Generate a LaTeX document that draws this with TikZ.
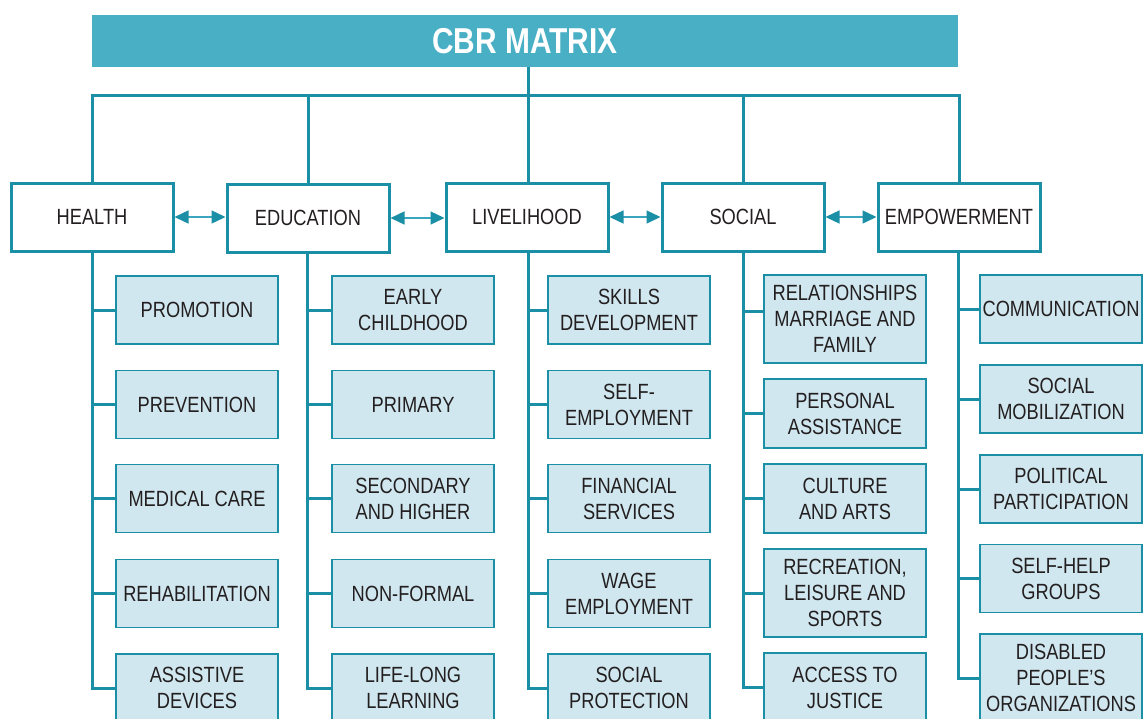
\documentclass[tikz,border=0pt]{standalone}
\usepackage{fontspec}
\setmainfont{Liberation Sans}[FakeStretch=0.83]
\usetikzlibrary{arrows.meta}
\definecolor{teal1}{HTML}{1A8FA6}
\definecolor{shaft}{HTML}{3AA6BE}
\definecolor{titlebg}{HTML}{49AFC5}
\definecolor{subbg}{HTML}{D0E7EF}
\definecolor{txt}{HTML}{231F20}
\begin{document}
\begin{tikzpicture}[x=1pt,y=-1pt,
  bodyfont/.style={font=\fontsize{22}{26}\selectfont},
  titlebox/.style={fill=titlebg, minimum width=866pt, minimum height=52pt, inner sep=0pt, text=white, font=\fontsize{36}{40}\selectfont\bfseries},
  head/.style={draw=teal1, line width=3pt, fill=white, minimum width=162pt, minimum height=68pt, inner sep=0pt, bodyfont, text=txt, align=center},
  sub/.style={draw=teal1, line width=1.8pt, fill=subbg, minimum width=162pt, minimum height=68pt, inner sep=0pt, bodyfont, text=txt, align=center},
  link/.style={draw=teal1, line width=3pt},
  biarrow/.style={draw=shaft, line width=1.4pt, {Triangle[length=14pt,width=13pt,color=teal1]}-{Triangle[length=14pt,width=13pt,color=teal1]}}
]
\useasboundingbox (0,0) rectangle (1145,718);
\clip (0,0) rectangle (1145,718);

% title
\node[titlebox] (title) at (525,41) {CBR MATRIX};

% headers
\node[head] (health) at (92,217) {HEALTH};
\node[head] (edu) at (308,218) {EDUCATION};
\node[head] (live) at (527,217) {LIVELIHOOD};
\node[head] (social) at (743,217) {SOCIAL};
\node[head] (emp) at (959,217) {EMPOWERMENT};

\coordinate (bar) at (528,95);

% tree from title
\draw[link] (title.south -| bar) -- (bar);
\draw[link] (health.north) -- (health.north |- bar) -- (emp.north |- bar) -- (emp.north);
\draw[link] (edu.north) -- (edu.north |- bar);
\draw[link] (live.north -| bar) -- (bar);
\draw[link] (social.north) -- (social.north |- bar);

% arrows between headers
\draw[biarrow] (health.east) -- (health.east -| edu.west);
\draw[biarrow] (edu.east) -- (edu.east -| live.west);
\draw[biarrow] (live.east) -- (live.east -| social.west);
\draw[biarrow] (social.east) -- (social.east -| emp.west);

% HEALTH
\node[sub] (h1) at (197,310) {PROMOTION};
\node[sub] (h2) at (197,404.5) {PREVENTION};
\node[sub] (h3) at (197,498.5) {MEDICAL CARE};
\node[sub] (h4) at (197,593.5) {REHABILITATION};
\node[sub] (h5) at (197,688) {ASSISTIVE\\DEVICES};
\draw[link] (health.south) |- (h5.west);
\foreach \n in {h1,h2,h3,h4} \draw[link] (\n.west) -- (\n.west -| health.south);

% EDUCATION
\node[sub] (e1) at (413,310) {EARLY\\CHILDHOOD};
\node[sub] (e2) at (413,404.5) {PRIMARY};
\node[sub] (e3) at (413,498.5) {SECONDARY\\AND HIGHER};
\node[sub] (e4) at (413,593.5) {NON-FORMAL};
\node[sub] (e5) at (413,688) {LIFE-LONG\\LEARNING};
\coordinate (espine) at (307,252);
\draw[link] (espine) |- (e5.west);
\foreach \n in {e1,e2,e3,e4} \draw[link] (\n.west) -- (\n.west -| espine);

% LIVELIHOOD
\node[sub] (l1) at (629,310) {SKILLS\\DEVELOPMENT};
\node[sub] (l2) at (629,404.5) {SELF-\\EMPLOYMENT};
\node[sub] (l3) at (629,498.5) {FINANCIAL\\SERVICES};
\node[sub] (l4) at (629,593.5) {WAGE\\EMPLOYMENT};
\node[sub] (l5) at (629,688) {SOCIAL\\PROTECTION};
\coordinate (lspine) at (528,251);
\draw[link] (lspine) |- (l5.west);
\foreach \n in {l1,l2,l3,l4} \draw[link] (\n.west) -- (\n.west -| lspine);

% SOCIAL
\node[sub, minimum height=88pt] (s1) at (845,319) {RELATIONSHIPS\\MARRIAGE AND\\FAMILY};
\node[sub, minimum height=69pt] (s2) at (845,413.5) {PERSONAL\\ASSISTANCE};
\node[sub, minimum height=69pt] (s3) at (845,498.5) {CULTURE\\AND ARTS};
\node[sub, minimum height=88pt] (s4) at (845,593) {RECREATION,\\LEISURE AND\\SPORTS};
\node[sub, minimum height=69pt] (s5) at (845,687.5) {ACCESS TO\\JUSTICE};
\draw[link] (social.south) |- (s5.west);
\draw[link] ([yshift=8pt]s1.west) -- ([yshift=8pt]s1.west -| social.south);
\foreach \n in {s2,s3,s4} \draw[link] (\n.west) -- (\n.west -| social.south);

% EMPOWERMENT
\node[sub] (m1) at (1061,309) {COMMUNICATION};
\node[sub] (m2) at (1061,399) {SOCIAL\\MOBILIZATION};
\node[sub] (m3) at (1061,489) {POLITICAL\\PARTICIPATION};
\node[sub] (m4) at (1061,578.5) {SELF-HELP\\GROUPS};
\node[sub, minimum height=88pt] (m5) at (1061,678) {DISABLED\\PEOPLE’S\\ORGANIZATIONS};
\coordinate (mspine) at (958,251);
\draw[link] (mspine) |- (m5.west);
\foreach \n in {m1,m2,m3,m4} \draw[link] (\n.west) -- (\n.west -| mspine);
\end{tikzpicture}
\end{document}
